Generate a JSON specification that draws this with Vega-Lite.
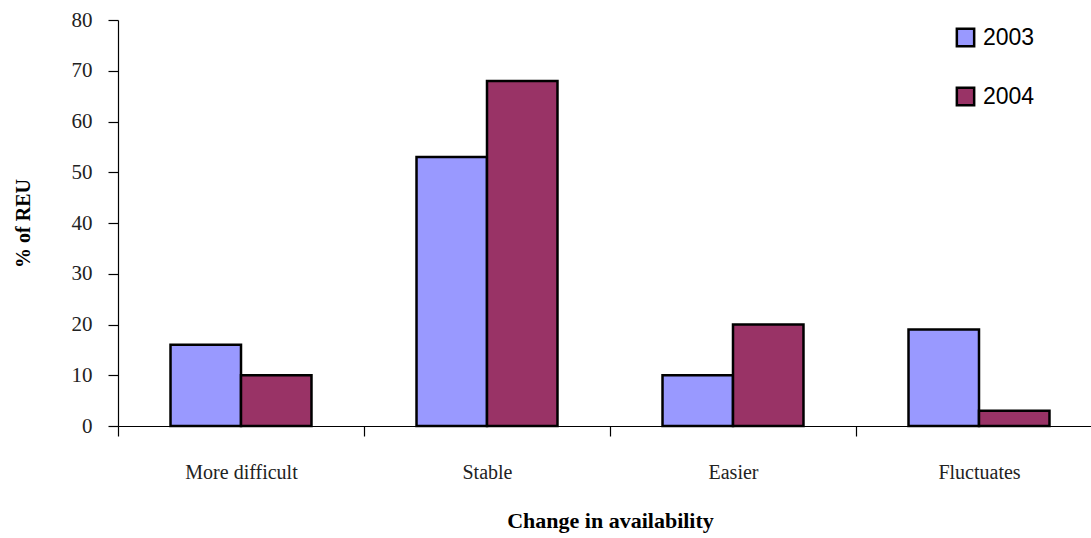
{
  "$schema": "https://vega.github.io/schema/vega-lite/v6.json",
  "autosize": "none",
  "padding": {"left": 118, "top": 20, "right": -11, "bottom": 112},
  "width": 984,
  "height": 406,
  "background": "white",
  "data": {
    "values": [
      {"category": "More difficult", "year": "2003", "pct": 16},
      {"category": "More difficult", "year": "2004", "pct": 10},
      {"category": "Stable", "year": "2003", "pct": 53},
      {"category": "Stable", "year": "2004", "pct": 68},
      {"category": "Easier", "year": "2003", "pct": 10},
      {"category": "Easier", "year": "2004", "pct": 20},
      {"category": "Fluctuates", "year": "2003", "pct": 19},
      {"category": "Fluctuates", "year": "2004", "pct": 3}
    ]
  },
  "mark": {"type": "bar", "stroke": "black", "strokeWidth": 2.5},
  "encoding": {
    "x": {
      "field": "category",
      "type": "nominal",
      "sort": ["More difficult", "Stable", "Easier", "Fluctuates"],
      "scale": {"paddingInner": 0, "paddingOuter": 0},
      "axis": {
        "title": "Change in availability",
        "titleFont": "Liberation Serif",
        "titleFontSize": 22,
        "titleFontWeight": "bold",
        "titleColor": "black",
        "titlePadding": 28,
        "labelFont": "Liberation Serif",
        "labelFontSize": 20,
        "labelColor": "#222222",
        "labelAngle": 0,
        "labelPadding": 26,
        "tickBand": "extent",
        "tickSize": 10,
        "tickColor": "black",
        "domainColor": "black",
        "tickWidth": 1.2,
        "domainWidth": 1.2
      }
    },
    "xOffset": {
      "field": "year",
      "type": "nominal",
      "scale": {"paddingInner": 0, "paddingOuter": 0.745}
    },
    "y": {
      "field": "pct",
      "type": "quantitative",
      "scale": {"domain": [0, 80], "nice": false},
      "axis": {
        "title": "% of REU",
        "titleFont": "Liberation Serif",
        "titleFontSize": 20,
        "titleFontWeight": "bold",
        "titleColor": "black",
        "titlePadding": 38,
        "values": [0, 10, 20, 30, 40, 50, 60, 70, 80],
        "grid": false,
        "labelFont": "Liberation Serif",
        "labelFontSize": 21,
        "labelColor": "#222222",
        "labelPadding": 16,
        "tickSize": 10,
        "tickColor": "black",
        "domainColor": "black",
        "tickWidth": 1.2,
        "domainWidth": 1.2
      }
    },
    "fill": {
      "field": "year",
      "type": "nominal",
      "scale": {"domain": ["2003", "2004"], "range": ["#9999FF", "#993366"]},
      "legend": {
        "title": null,
        "orient": "none",
        "legendX": 836,
        "legendY": 6,
        "symbolType": "square",
        "symbolSize": 300,
        "symbolStrokeColor": "black",
        "symbolStrokeWidth": 2.5,
        "labelFont": "Liberation Sans",
        "labelFontSize": 23,
        "labelColor": "black",
        "labelOffset": 6,
        "rowPadding": 30,
        "labelBaseline": "middle"
      }
    }
  },
  "config": {"view": {"stroke": null}}
}
